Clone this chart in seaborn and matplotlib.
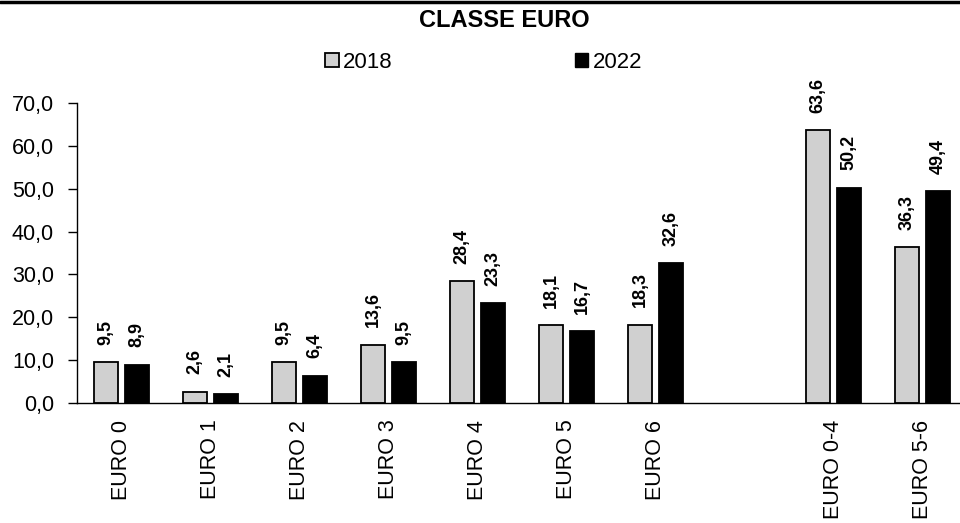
import seaborn as sns
import pandas as pd
import matplotlib.pyplot as plt
import numpy as np
from matplotlib.lines import Line2D
from matplotlib.patches import Patch

CATEGORIES = ["EURO 0", "EURO 1", "EURO 2", "EURO 3", "EURO 4", "EURO 5", "EURO 6", "", "EURO 0-4", "EURO 5-6"]
YEARS = ["2018", "2022"]
VALUES_2018 = [9.5, 2.6, 9.5, 13.6, 28.4, 18.1, 18.3, None, 63.6, 36.3]
VALUES_2022 = [8.9, 2.1, 6.4, 9.5, 23.3, 16.7, 32.6, None, 50.2, 49.4]
Y_TICKS = [0, 10, 20, 30, 40, 50, 60, 70]

GRAY = "#d0d0d0"
BLACK = "#000000"

sns.set_style("white", {"text.color": "black", "xtick.color": "black",
                        "ytick.color": "black", "axes.labelcolor": "black"})
plt.rcParams["font.family"] = ["Liberation Sans", "DejaVu Sans"]

rows = []
for year, vals in zip(YEARS, [VALUES_2018, VALUES_2022]):
    for c, v in zip(CATEGORIES, vals):
        if v is not None:
            rows.append({"cat": c, "year": year, "value": v})
df = pd.DataFrame(rows)

fig = plt.figure(figsize=(9.6, 5.23), dpi=100)
ax = fig.add_axes([77 / 960, 120 / 523, 890 / 960, 300 / 523])

sns.barplot(
    data=df, x="cat", y="value", hue="year", order=CATEGORIES, hue_order=YEARS,
    palette=[GRAY, BLACK], edgecolor="black", linewidth=1.3,
    width=0.7, gap=0.22, ax=ax, legend=False, errorbar=None,
)

for cont in ax.containers:
    labels = [f"{v:.1f}".replace(".", ",") for v in cont.datavalues]
    ax.bar_label(cont, labels=labels, rotation=90, padding=12.5,
                 fontsize=13, fontweight="bold", color="black")

ax.set_xlim(-0.5, 9.5)
ax.set_ylim(0, 70)
ax.set_yticks(Y_TICKS)
ax.set_yticklabels([f"{t:.1f}".replace(".", ",") for t in Y_TICKS], fontsize=15.5)
ax.set_xticks(range(len(CATEGORIES)))
ax.set_xticklabels(CATEGORIES, rotation=90, fontsize=15.5)
ax.set_xticks(np.arange(-0.5, 10, 1), minor=True)
ax.tick_params(axis="x", which="major", length=0, pad=12, labelcolor="black")
ax.tick_params(axis="x", which="minor", length=7, width=1, direction="out", color="black")
ax.tick_params(axis="y", length=6.5, width=1, direction="out", color="black",
               labelcolor="black", left=True, pad=10)
ax.set_xlabel("")
ax.set_ylabel("")

sns.despine(ax=ax, top=True, right=True)
for s in ["left", "bottom"]:
    ax.spines[s].set_color("black")
    ax.spines[s].set_linewidth(1)

handles = [Patch(facecolor=GRAY, edgecolor="black", linewidth=1.3),
           Patch(facecolor=BLACK, edgecolor="black")]
fig.legend(handles, YEARS, loc="center", bbox_to_anchor=(0.504, 0.881), ncol=2,
           frameon=False, fontsize=16, handlelength=0.6, handleheight=0.6,
           handletextpad=0.2, columnspacing=8.2, labelcolor="black")

fig.text(0.5255, 0.96, "CLASSE EURO", ha="center", va="center",
         fontsize=17, fontweight="bold", color="black")

fig.add_artist(Line2D([0, 1], [0.997, 0.997], color="black", linewidth=2.5,
                      transform=fig.transFigure))

fig.savefig("out.png", dpi=100)
